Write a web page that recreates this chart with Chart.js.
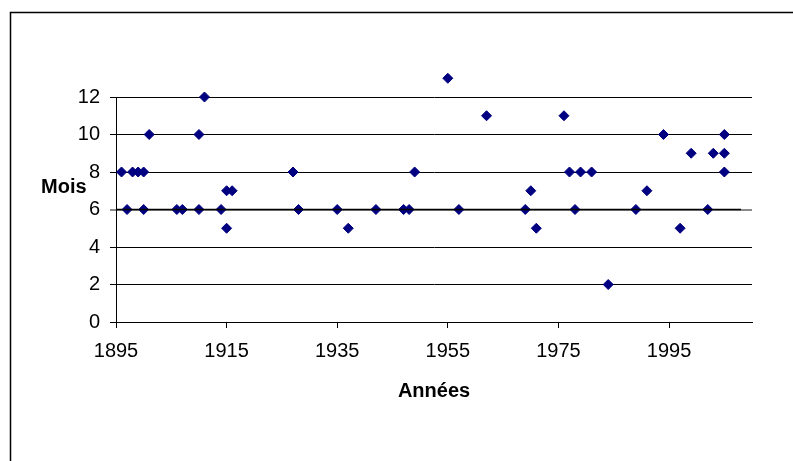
<!DOCTYPE html>
<html lang="fr">
  <head>
    <meta charset="UTF-8" />
    <title>Mois par année</title>
    <style>
      html, body { margin: 0; padding: 0; background: #fff; }
      #wrap { width: 793px; height: 461px; position: relative; }
    </style>
    <script src="https://cdn.jsdelivr.net/npm/chart.js"></script>
  </head>
  <body>
    <div id="wrap"><canvas id="chart" width="793" height="461"></canvas></div>
    <script>
      // data
      const years = [1896, 1897, 1898, 1899, 1900, 1900, 1901, 1906, 1907, 1910, 1910, 1911, 1914, 1915, 1915, 1916,
        1927, 1928, 1935, 1937, 1942, 1947, 1948, 1949, 1955, 1957, 1962, 1969, 1970, 1971,
        1976, 1977, 1978, 1979, 1981, 1984, 1989, 1991, 1994, 1997, 1999, 2002, 2003, 2005, 2005, 2005];
      const months = [8, 6, 8, 8, 8, 6, 10, 6, 6, 10, 6, 12, 6, 5, 7, 7,
        8, 6, 6, 5, 6, 6, 6, 8, 13, 6, 11, 6, 7, 5,
        11, 8, 6, 8, 8, 2, 6, 7, 10, 5, 9, 6, 9, 10, 9, 8];
      const refLineYears = [1895, 2008];
      const refLineMonths = [6, 6];
      const xTickLabels = [1895, 1915, 1935, 1955, 1975, 1995];
      const yTickLabels = [0, 2, 4, 6, 8, 10, 12];

      const FONT = "'Liberation Sans', Arial, sans-serif";

      const framePlugin = {
        id: "frame",
        beforeDraw(chart) {
          const c = chart.ctx;
          c.save();
          c.fillStyle = "#fff";
          c.fillRect(0, 0, chart.width, chart.height);
          c.strokeStyle = "#000";
          c.lineWidth = 1.5;
          c.strokeRect(10.5, 12.5, 900, 600);
          c.restore();
        },
        afterDatasetsDraw(chart) {
          // Chart.js skips points outside the chart area; draw those (the 13 above the 12 line) here
          const meta = chart.getDatasetMeta(1);
          meta.data.forEach(p => {
            if (p.y < chart.chartArea.top - 1) p.draw(chart.ctx);
          });
        },
        afterDraw(chart) {
          const c = chart.ctx;
          c.save();
          c.fillStyle = "#000";
          c.font = "bold 20px " + FONT;
          c.textAlign = "left";
          c.textBaseline = "middle";
          c.fillText("Mois", 41, 187);
          c.restore();
        }
      };

      new Chart(document.getElementById("chart"), {
        type: "scatter",
        data: {
          datasets: [
            {
              label: "ligne",
              type: "line",
              data: refLineYears.map((x, i) => ({ x: x, y: refLineMonths[i] })),
              borderColor: "#000",
              borderWidth: 1.5,
              pointRadius: 0,
              fill: false
            },
            {
              label: "Mois",
              data: years.map((x, i) => ({ x: x, y: months[i] })),
              pointStyle: "rectRot",
              pointRadius: 5,
              pointBackgroundColor: "#000080",
              pointBorderColor: "#000080",
              pointBorderWidth: 1,
              clip: false
            }
          ]
        },
        options: {
          responsive: false,
          animation: false,
          layout: { padding: { top: 97, right: 41, left: 0, bottom: 0 } },
          plugins: {
            legend: { display: false },
            tooltip: { enabled: false }
          },
          scales: {
            x: {
              type: "linear",
              min: 1895,
              max: 2010,
              afterBuildTicks: axis => { axis.ticks = xTickLabels.map(v => ({ value: v })); },
              afterFit: axis => { axis.height = 139; axis.paddingLeft = 0; axis.paddingRight = 0; },
              grid: { drawOnChartArea: false, drawTicks: true, tickLength: 6, color: "#000" },
              border: { display: true, color: "#000", width: 1 },
              ticks: {
                color: "#000",
                font: { family: FONT, size: 20 },
                padding: 11,
                maxRotation: 0,
                autoSkip: false,
                callback: v => String(v)
              },
              title: {
                display: true,
                text: "Années",
                color: "#000",
                font: { family: FONT, size: 20, weight: "bold" },
                padding: { top: 0, bottom: 58 }
              }
            },
            y: {
              min: 0,
              max: 12,
              afterBuildTicks: axis => { axis.ticks = yTickLabels.map(v => ({ value: v })); },
              afterFit: axis => { axis.width = 116; },
              grid: {
                drawTicks: true,
                tickLength: 6,
                color: ctx => (ctx.tick && ctx.tick.value === 6 ? "#8a8a8a" : "#000"),
                lineWidth: ctx => (ctx.tick && ctx.tick.value === 6 ? 2 : 1)
              },
              border: { display: true, color: "#000", width: 1 },
              ticks: { color: "#000", font: { family: FONT, size: 20 }, padding: 10 }
            }
          }
        },
        plugins: [framePlugin]
      });
    </script>
  </body>
</html>
